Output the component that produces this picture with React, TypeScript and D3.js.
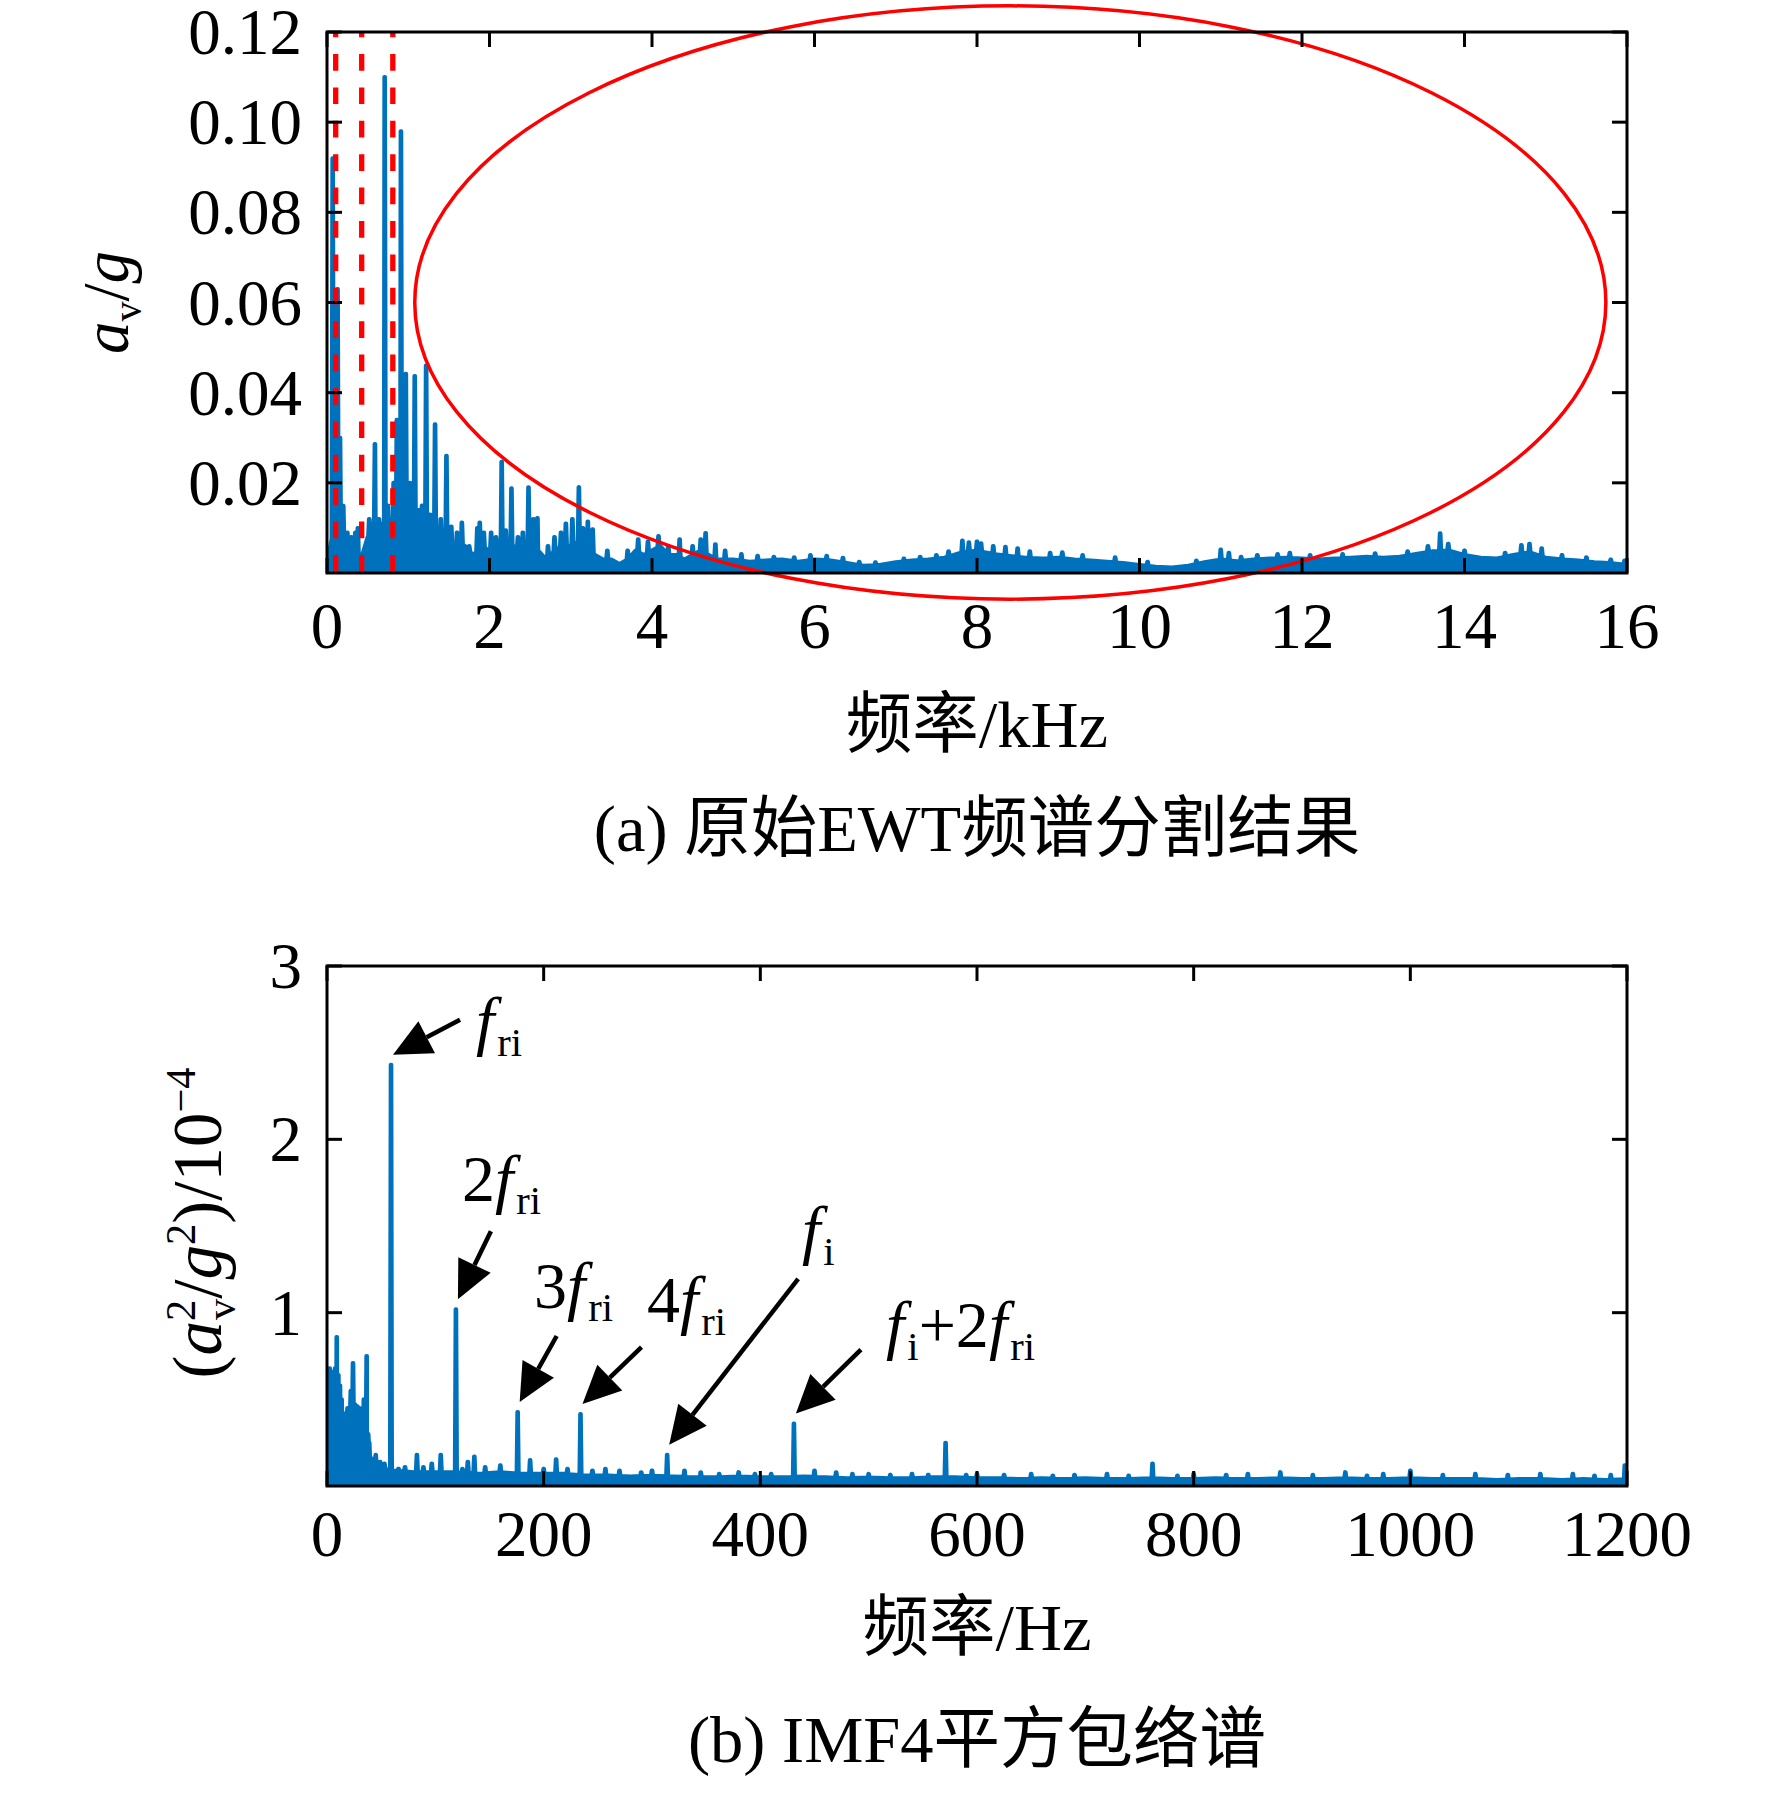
import { useEffect, useRef } from 'react'
import * as d3 from 'd3'

const W = 1772
const H = 1793
const FONT = "'Liberation Serif', 'Times New Roman', 'Noto Sans CJK SC', serif"
const BLUE = '#0072bd'
const RED = '#ff0000'

// ---- (a) EWT spectrum, kHz / g ----
const TOP_X_TICKS = [0, 2, 4, 6, 8, 10, 12, 14, 16]
const TOP_Y_TICKS = [0.02, 0.04, 0.06, 0.08, 0.1, 0.12]

// noise floor 0..5 kHz every 0.1 kHz
const TOP_FLOOR_LOW = [
  0.002, 0.012, 0.007, 0.006, 0.002, 0.008, 0.009, 0.01, 0.009, 0.011,
  0.012, 0.01, 0.009, 0.008, 0.007, 0.006, 0.005, 0.006, 0.004, 0.006,
  0.005, 0.006, 0.005, 0.006, 0.004, 0.006, 0.005, 0.003, 0.005, 0.006,
  0.006, 0.007, 0.006, 0.004, 0.003, 0.003, 0.002, 0.003, 0.005, 0.004,
  0.005, 0.006, 0.004, 0.004, 0.003, 0.004, 0.005, 0.004, 0.003, 0.003,
  0.003
]
// noise floor 5.2..16 kHz every 0.2 kHz
const TOP_FLOOR_HIGH = [
  0.0025, 0.0028, 0.003, 0.0025, 0.003, 0.0028, 0.0022, 0.0016, 0.0018, 0.0024,
  0.0028, 0.003, 0.0034, 0.0045, 0.005, 0.0042, 0.0038, 0.0034, 0.0032, 0.0034,
  0.003, 0.0028, 0.0025, 0.0022, 0.0018, 0.0014, 0.0012, 0.0016, 0.0024, 0.003,
  0.0026, 0.003, 0.0032, 0.0034, 0.0032, 0.003, 0.0032, 0.0034, 0.0036, 0.0034,
  0.0036, 0.0042, 0.0048, 0.005, 0.004, 0.0034, 0.0032, 0.004, 0.0046, 0.0034,
  0.003, 0.0028, 0.0024, 0.0022, 0.0018
]
// spikes [kHz, amplitude]
const TOP_PEAKS = [
  [0.07, 0.092], [0.1, 0.035], [0.13, 0.063], [0.16, 0.03], [0.2, 0.0149], [0.25, 0.009],
  [0.3, 0.008], [0.35, 0.009], [0.38, 0.01], [0.52, 0.012], [0.55, 0.011], [0.59, 0.0286],
  [0.64, 0.012], [0.68, 0.011], [0.71, 0.11], [0.75, 0.015], [0.82, 0.02], [0.86, 0.034],
  [0.91, 0.098], [0.94, 0.02], [0.97, 0.0442], [1.02, 0.02], [1.05, 0.016], [1.08, 0.0437],
  [1.13, 0.014], [1.17, 0.015], [1.22, 0.046], [1.27, 0.013], [1.33, 0.033], [1.4, 0.012],
  [1.47, 0.026], [1.53, 0.0103], [1.6, 0.009], [1.66, 0.0112], [1.75, 0.006], [1.85, 0.01],
  [1.88, 0.0112], [1.93, 0.009], [2.02, 0.009], [2.08, 0.008], [2.15, 0.0247], [2.2, 0.0095],
  [2.27, 0.0188], [2.35, 0.008], [2.41, 0.009], [2.48, 0.019], [2.54, 0.012], [2.59, 0.0122],
  [2.72, 0.006], [2.8, 0.008], [2.88, 0.009], [2.94, 0.011], [3.02, 0.012], [3.1, 0.019],
  [3.15, 0.01], [3.21, 0.0114], [3.27, 0.0097], [3.45, 0.005], [3.7, 0.005], [3.83, 0.0075],
  [3.95, 0.007], [4.08, 0.0082], [4.2, 0.006], [4.34, 0.0075], [4.5, 0.006], [4.6, 0.0075],
  [4.66, 0.0089], [4.78, 0.0064], [4.9, 0.005], [5.1, 0.0042], [5.3, 0.0038], [5.5, 0.0036],
  [5.75, 0.0035], [5.95, 0.004], [6.15, 0.0038], [6.35, 0.0034], [6.55, 0.0025], [6.75, 0.0024],
  [7.1, 0.0032], [7.3, 0.0036], [7.5, 0.004], [7.65, 0.0048], [7.82, 0.0072], [7.9, 0.0068],
  [8.0, 0.007], [8.05, 0.0066], [8.2, 0.006], [8.35, 0.0058], [8.5, 0.0055], [8.65, 0.0048],
  [8.9, 0.0045], [9.05, 0.0046], [9.3, 0.004], [9.7, 0.0035], [10.1, 0.0025], [10.7, 0.0028],
  [11.0, 0.0052], [11.1, 0.0045], [11.25, 0.0036], [11.45, 0.004], [11.7, 0.0042], [11.85, 0.0045],
  [12.1, 0.004], [12.5, 0.0042], [12.9, 0.0044], [13.3, 0.0048], [13.55, 0.006], [13.7, 0.0088],
  [13.8, 0.0065], [14.0, 0.005], [14.5, 0.0045], [14.7, 0.0062], [14.8, 0.0065], [14.95, 0.0055],
  [15.2, 0.004], [15.5, 0.0035], [15.8, 0.003], [15.97, 0.0028]
]
// EWT boundaries (kHz) and the marked band ellipse [centre kHz, centre g, half kHz, half g]
const TOP_BOUNDARIES = [0.107, 0.427, 0.81]
const TOP_ELLIPSE = [8.41, 0.06, 7.33, 0.0658]

// ---- (b) IMF4 squared envelope spectrum, Hz / 1e-4 g^2 ----
const BOT_X_TICKS = [0, 200, 400, 600, 800, 1000, 1200]
const BOT_Y_TICKS = [1, 2, 3]
// floor every 20 Hz, 0..1200
const BOT_FLOOR = [
  0.45, 0.4, 0.12, 0.09, 0.08, 0.08, 0.08, 0.07, 0.08, 0.07,
  0.07, 0.07, 0.06, 0.06, 0.055, 0.06, 0.055, 0.05, 0.05, 0.055,
  0.05, 0.05, 0.055, 0.05, 0.045, 0.05, 0.045, 0.045, 0.05, 0.05,
  0.045, 0.045, 0.04, 0.045, 0.04, 0.045, 0.04, 0.04, 0.045, 0.04,
  0.04, 0.045, 0.04, 0.04, 0.045, 0.04, 0.04, 0.045, 0.04, 0.04,
  0.045, 0.04, 0.04, 0.04, 0.035, 0.04, 0.04, 0.035, 0.04, 0.035,
  0.04
]
const BOT_PEAKS = [
  [1, 0.6], [2.5, 0.68], [4, 0.66], [6, 0.62], [7.5, 0.68], [9, 0.86], [10.5, 0.64], [12, 0.58],
  [13.5, 0.5], [15, 0.42], [17, 0.27], [19, 0.45], [22, 0.55], [24, 0.71], [26, 0.47], [28, 0.46],
  [30, 0.45], [32, 0.42], [34, 0.5], [36.6, 0.75], [38, 0.3], [39, 0.25], [41, 0.16], [45, 0.18],
  [49, 0.14], [53, 0.13], [59.1, 2.43], [66, 0.1], [72, 0.11], [83, 0.18], [89, 0.11], [96.7, 0.13],
  [105, 0.18], [119, 1.02], [125, 0.1], [130, 0.14], [136, 0.17], [146, 0.11], [160, 0.12],
  [176, 0.427], [187.5, 0.15], [200, 0.1], [211.5, 0.155], [222, 0.1], [234, 0.415], [245, 0.09],
  [257, 0.1], [270, 0.09], [290, 0.08], [300, 0.09], [314, 0.18], [330, 0.09], [345, 0.08],
  [362, 0.07], [380, 0.08], [395, 0.07], [410, 0.07], [431, 0.36], [450, 0.09], [470, 0.08],
  [485, 0.07], [500, 0.07], [520, 0.065], [540, 0.07], [555, 0.065], [571, 0.25], [590, 0.065],
  [600, 0.07], [625, 0.065], [650, 0.07], [670, 0.06], [690, 0.065], [720, 0.07], [740, 0.06],
  [762, 0.13], [785, 0.06], [800, 0.07], [830, 0.065], [850, 0.07], [880, 0.08], [910, 0.065],
  [940, 0.08], [960, 0.06], [975, 0.07], [1000, 0.09], [1030, 0.065], [1060, 0.07], [1090, 0.065],
  [1120, 0.07], [1150, 0.07], [1170, 0.06], [1185, 0.065], [1198, 0.12]
]
// annotated peaks [Hz, amplitude]
const BOT_MARKED = [[59.1, 2.43], [119, 1.02], [176, 0.427], [234, 0.415], [314, 0.18], [431, 0.36]]

type Part = { t: string; s: 'r' | 'i' | 'sub' | 'sup'; dx?: number }
const f = (t = 'f'): Part => ({ t, s: 'i' })
const sub = (t: string, dx?: number): Part => ({ t, s: 'sub', dx })
const sup = (t: string): Part => ({ t, s: 'sup' })
const rom = (t: string): Part => ({ t, s: 'r' })

const BOT_LABELS: Part[][] = [
  [f(), sub('ri', 3)],
  [rom('2'), f(), sub('ri', 3)],
  [rom('3'), f(), sub('ri', 3)],
  [rom('4'), f(), sub('ri', 3)],
  [f(), sub('i', 3)],
  [f(), sub('i', 3), rom('+2'), f(), sub('ri', 3)]
]

// layout for annotations: tail offset from tip, label origin
const ARROW_TAIL = [[67, -35], [33, -68], [37, -66], [59, -57], [129, -166], [65, -64]]
const LABEL_POS = [[476, 1043], [462, 1201], [534, 1308], [647, 1322], [802, 1252], [886, 1347]]

const TOP_BOX = { left: 327, right: 1627, top: 32, bottom: 573 }
const BOT_BOX = { left: 327, right: 1627, top: 966, bottom: 1486 }
const SIZE = 65
const TITLE = 66.5
const SUB = 40

type Sel = d3.Selection<any, unknown, null, undefined>

function rich(parent: Sel, x: number, y: number, parts: Part[], size = SIZE, anchor = 'start') {
  const t = parent
    .append('text')
    .attr('x', x)
    .attr('y', y)
    .attr('font-family', FONT)
    .attr('font-size', size)
    .attr('text-anchor', anchor)
    .attr('fill', '#000')
  let shift = 0
  const small = size * (SUB / SIZE)
  parts.forEach((p) => {
    const target = p.s === 'sub' ? size * 0.2 : p.s === 'sup' ? -size * 0.38 : 0
    const ts = t
      .append('tspan')
      .attr('dy', target - shift)
      .attr('font-size', p.s === 'sub' || p.s === 'sup' ? small : size)
      .attr('font-style', p.s === 'i' ? 'italic' : 'normal')
      .text(p.t)
    if (p.dx) ts.attr('dx', p.dx)
    shift = target
  })
  return t
}

function spectrum(floorF: number[], floorA: number[], peaks: number[][], hw: number) {
  const fl = d3.scaleLinear(floorF, floorA).clamp(true)
  const pts: [number, number][] = floorF.map((v, i) => [v, floorA[i]])
  peaks.forEach(([fr, a]) => {
    pts.push([fr - hw, fl(fr - hw)], [fr - hw * 0.3, a], [fr + hw * 0.3, a], [fr + hw, fl(fr + hw)])
  })
  return pts.sort((a, b) => a[0] - b[0])
}

function frame(
  g: Sel,
  box: typeof TOP_BOX,
  x: d3.ScaleLinear<number, number>,
  y: d3.ScaleLinear<number, number>,
  xt: number[],
  yt: number[]
) {
  const len = 15
  xt.forEach((v) => {
    g.append('line').attr('x1', x(v)).attr('x2', x(v)).attr('y1', box.bottom).attr('y2', box.bottom - len)
    g.append('line').attr('x1', x(v)).attr('x2', x(v)).attr('y1', box.top).attr('y2', box.top + len)
  })
  yt.forEach((v) => {
    g.append('line').attr('x1', box.left).attr('x2', box.left + len).attr('y1', y(v)).attr('y2', y(v))
    g.append('line').attr('x1', box.right).attr('x2', box.right - len).attr('y1', y(v)).attr('y2', y(v))
  })
  g.selectAll('line').attr('stroke', '#000').attr('stroke-width', 3)
  g.append('rect')
    .attr('x', box.left)
    .attr('y', box.top)
    .attr('width', box.right - box.left)
    .attr('height', box.bottom - box.top)
    .attr('fill', 'none')
    .attr('stroke', '#000')
    .attr('stroke-width', 3)
}

function drawSeries(svg: Sel, id: string, box: typeof TOP_BOX, pts: [number, number][], x: any, y: any, sw: number) {
  svg
    .append('clipPath')
    .attr('id', id)
    .append('rect')
    .attr('x', box.left)
    .attr('y', box.top)
    .attr('width', box.right - box.left)
    .attr('height', box.bottom - box.top)
  const g = svg.append('g').attr('clip-path', `url(#${id})`)
  const area = d3.area<[number, number]>().x((d) => x(d[0])).y0(box.bottom).y1((d) => y(d[1]))
  const line = d3.line<[number, number]>().x((d) => x(d[0])).y((d) => y(d[1]))
  g.append('path').attr('d', area(pts) as string).attr('fill', BLUE)
  g.append('path')
    .attr('d', line(pts) as string)
    .attr('fill', 'none')
    .attr('stroke', BLUE)
    .attr('stroke-width', sw)
    .attr('stroke-linejoin', 'round')
}

export default function App() {
  const ref = useRef<SVGSVGElement | null>(null)

  useEffect(() => {
    if (!ref.current) return
    const svg = d3.select(ref.current)
    svg.selectAll('*').remove()
    svg.append('rect').attr('width', W).attr('height', H).attr('fill', '#fff')

    // (a)
    const x1 = d3.scaleLinear([0, 16], [TOP_BOX.left, TOP_BOX.right])
    const y1 = d3.scaleLinear([0, 0.12], [TOP_BOX.bottom, TOP_BOX.top])
    const lowF = d3.range(TOP_FLOOR_LOW.length).map((i) => i * 0.1)
    const highF = d3.range(TOP_FLOOR_HIGH.length).map((i) => 5.2 + i * 0.2)
    const topPts = spectrum([...lowF, ...highF], [...TOP_FLOOR_LOW, ...TOP_FLOOR_HIGH], TOP_PEAKS, 0.014)
    drawSeries(svg, 'clipTop', TOP_BOX, topPts, x1, y1, 4)

    TOP_BOUNDARIES.forEach((b) => {
      svg
        .append('line')
        .attr('x1', x1(b))
        .attr('x2', x1(b))
        .attr('y1', TOP_BOX.top)
        .attr('y2', TOP_BOX.bottom - 2)
        .attr('stroke', RED)
        .attr('stroke-width', 5.3)
        .attr('stroke-dasharray', '16.7 16.7')
        .attr('stroke-dashoffset', 11.4)
    })

    const [ecx, ecy, erx, ery] = TOP_ELLIPSE
    svg
      .append('ellipse')
      .attr('cx', x1(ecx))
      .attr('cy', y1(ecy))
      .attr('rx', x1(ecx + erx) - x1(ecx))
      .attr('ry', y1(ecy) - y1(ecy + ery))
      .attr('fill', 'none')
      .attr('stroke', RED)
      .attr('stroke-width', 3.5)

    frame(svg.append('g'), TOP_BOX, x1, y1, TOP_X_TICKS, TOP_Y_TICKS)

    const fmt = d3.format('.2f')
    TOP_Y_TICKS.forEach((v) => rich(svg, 302, y1(v) + 22, [rom(fmt(v))], SIZE, 'end'))
    TOP_X_TICKS.forEach((v) => rich(svg, x1(v), 648, [rom(String(v))], SIZE, 'middle'))

    const yl1 = rich(svg, 0, 0, [f('a'), sub('v'), rom('/'), f('g')], SIZE, 'middle')
    yl1.attr('transform', `translate(128,${(TOP_BOX.top + TOP_BOX.bottom) / 2}) rotate(-90)`)
    const cx = (TOP_BOX.left + TOP_BOX.right) / 2
    rich(svg, cx, 747, [rom('频率/kHz')], TITLE, 'middle')
    rich(svg, cx, 851, [rom('(a) 原始EWT频谱分割结果')], TITLE, 'middle')

    // (b)
    const x2 = d3.scaleLinear([0, 1200], [BOT_BOX.left, BOT_BOX.right])
    const y2 = d3.scaleLinear([0, 3], [BOT_BOX.bottom, BOT_BOX.top])
    const botF = d3.range(BOT_FLOOR.length).map((i) => i * 20)
    const botPts = spectrum(botF, BOT_FLOOR, BOT_PEAKS, 1)
    drawSeries(svg, 'clipBot', BOT_BOX, botPts, x2, y2, 4)

    frame(svg.append('g'), BOT_BOX, x2, y2, BOT_X_TICKS, BOT_Y_TICKS)

    BOT_Y_TICKS.forEach((v) => rich(svg, 302, y2(v) + 22, [rom(String(v))], SIZE, 'end'))
    BOT_X_TICKS.forEach((v) => rich(svg, x2(v), 1556, [rom(String(v))], SIZE, 'middle'))

    const yl2 = rich(
      svg,
      0,
      0,
      [rom('('), f('a'), sup('2'), sub('v', -20), rom('/'), f('g'), sup('2'), rom(')/10'), sup('−4')],
      69,
      'middle'
    )
    yl2.attr('transform', `translate(221,${(BOT_BOX.top + BOT_BOX.bottom) / 2 - 3}) rotate(-90)`)
    rich(svg, cx, 1650, [rom('频率/Hz')], TITLE, 'middle')
    rich(svg, cx, 1762, [rom('(b) IMF4平方包络谱')], TITLE, 'middle')

    // annotations
    const ann = svg.append('g')
    BOT_MARKED.forEach(([fr, a], i) => {
      const tx = x2(fr) + 2
      const ty = y2(a) - 10
      const [ox, oy] = ARROW_TAIL[i]
      const len = Math.hypot(ox, oy)
      const ux = ox / len
      const uy = oy / len
      const head = 38
      const half = 18
      const bx = tx + ux * head
      const by = ty + uy * head
      ann
        .append('line')
        .attr('x1', tx + ox)
        .attr('y1', ty + oy)
        .attr('x2', bx)
        .attr('y2', by)
        .attr('stroke', '#000')
        .attr('stroke-width', 4.5)
      ann
        .append('path')
        .attr(
          'd',
          `M${tx},${ty}L${bx - uy * half},${by + ux * half}L${bx + uy * half},${by - ux * half}Z`
        )
        .attr('fill', '#000')
      const [lx, ly] = LABEL_POS[i]
      rich(ann, lx, ly, BOT_LABELS[i], 66)
    })
  }, [])

  return (
    <svg
      ref={ref}
      width={W}
      height={H}
      style={{ position: 'absolute', left: 0, top: 0, display: 'block' }}
    />
  )
}
